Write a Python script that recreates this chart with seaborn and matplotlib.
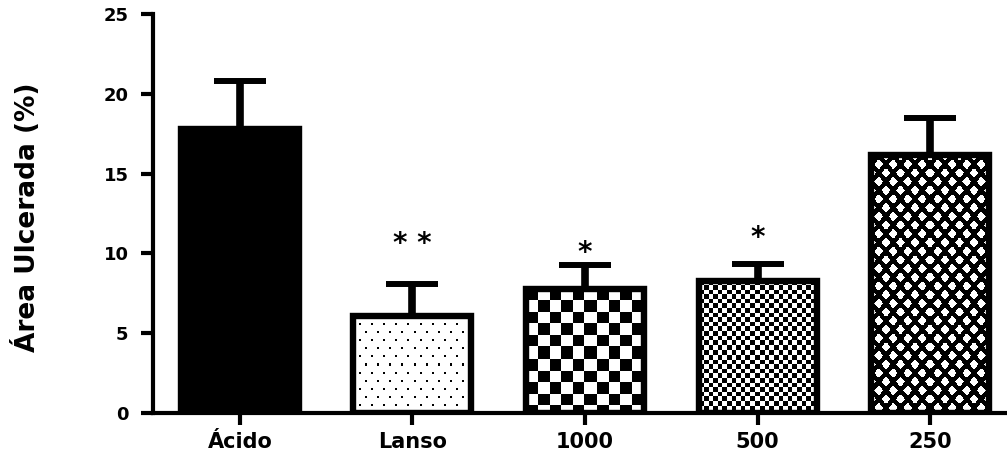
import numpy as np
import pandas as pd
import matplotlib
matplotlib.use("Agg")
import matplotlib.pyplot as plt
import seaborn as sns

# valores (media e EPM, so barra superior)
grupos = ["Ácido", "Lanso", "1000", "500", "250"]
area = [17.8, 6.1, 7.8, 8.3, 16.15]
epm = [3.0, 2.0, 1.5, 1.05, 2.35]
texturas = ["solido", "pontos", "xadrez", "xadrez_fino", "losangos"]
signif = ["", "* *", "*", "*", ""]
signif_y = [0, 10.1, 9.5, 10.45, 0]
yticks = [0, 5, 10, 15, 20, 25]

sns.set_style("ticks")
plt.rcParams['font.family'] = ['DejaVu Sans']
plt.rcParams['font.weight'] = 'bold'
for chave in ["text.color", "axes.labelcolor", "xtick.color", "ytick.color",
              "axes.edgecolor"]:
    plt.rcParams[chave] = "black"


def textura(nome, w, h):
    yy, xx = np.mgrid[0:h, 0:w]
    if nome == "pontos":
        linha = yy // 8
        desloc = (linha % 2) * 6
        preto = ((yy % 8) < 2) & (((xx + desloc) % 12) < 2)
    elif nome == "xadrez":
        preto = ((np.floor(xx / 11.6) + np.floor(yy / 11.6)) % 2) == 0
    elif nome == "xadrez_fino":
        preto = ((np.floor(xx / 4.6) + np.floor(yy / 4.6)) % 2) == 0
    elif nome == "losangos":
        py, px = 8.7, 14.5
        j = np.round(yy / py)
        dy = yy - j * py
        dx = (xx - (j % 2) * px / 2 + px / 2) % px - px / 2
        preto = ~((np.abs(dx) / 4.35 + np.abs(dy) / 5.2) < 1)
    else:
        preto = np.ones((h, w), dtype=bool)
    return np.where(preto, 0.0, 1.0)


df = pd.DataFrame({"grupo": grupos, "area": area})

fig = plt.figure(figsize=(10.07, 4.59), dpi=100)
ax = fig.add_axes([153 / 1007, 46 / 459, 854 / 1007, 399 / 459])

sns.barplot(data=df, x="grupo", y="area", color="black", saturation=1,
            width=0.684, errorbar=None, edgecolor="black", linewidth=4.6,
            ax=ax)

ax.errorbar(x=np.arange(len(grupos)), y=area,
            yerr=[np.zeros(len(epm)), epm], fmt="none", ecolor="black",
            elinewidth=5.5, capsize=19, capthick=4.3, zorder=0.5)

ax.set_xlim(-0.504, 4.446)
ax.set_ylim(0, 25)
fig.canvas.draw()

barras = ax.patches[:len(grupos)]
for barra, nome in zip(barras, texturas):
    if nome == "solido":
        continue
    bb = barra.get_window_extent()
    w, h = int(round(bb.width)), int(round(bb.height))
    x0, y0 = barra.get_x(), barra.get_y()
    im = ax.imshow(textura(nome, w, h), cmap="gray", vmin=0, vmax=1,
                   extent=(x0, x0 + barra.get_width(), y0, y0 + barra.get_height()),
                   aspect="auto", interpolation="nearest", zorder=0.9)
    im.set_clip_path(barra)
    barra.set_facecolor("none")

for i, (s, sy) in enumerate(zip(signif, signif_y)):
    if s:
        ax.text(i, sy, s, ha="center", va="baseline", fontsize=20,
                fontweight="bold", color="black")

ax.set_xlim(-0.504, 4.446)
ax.set_ylim(0, 25)
ax.set_yticks(yticks)
ax.set_xlabel("")
ax.set_ylabel("Área Ulcerada (%)", fontsize=19, fontweight="bold")
ax.yaxis.set_label_coords(-0.131, 0.49)

sns.despine(ax=ax)
for lado in ["left", "bottom"]:
    ax.spines[lado].set_linewidth(3)
    ax.spines[lado].set_color("black")
ax.tick_params(axis="both", length=8.6, width=3, color="black")
ax.tick_params(axis="x", labelsize=15, pad=5)
ax.tick_params(axis="y", labelsize=13, pad=9)
for t in ax.get_xticklabels() + ax.get_yticklabels():
    t.set_fontweight("bold")

fig.savefig("out.png", dpi=100)
